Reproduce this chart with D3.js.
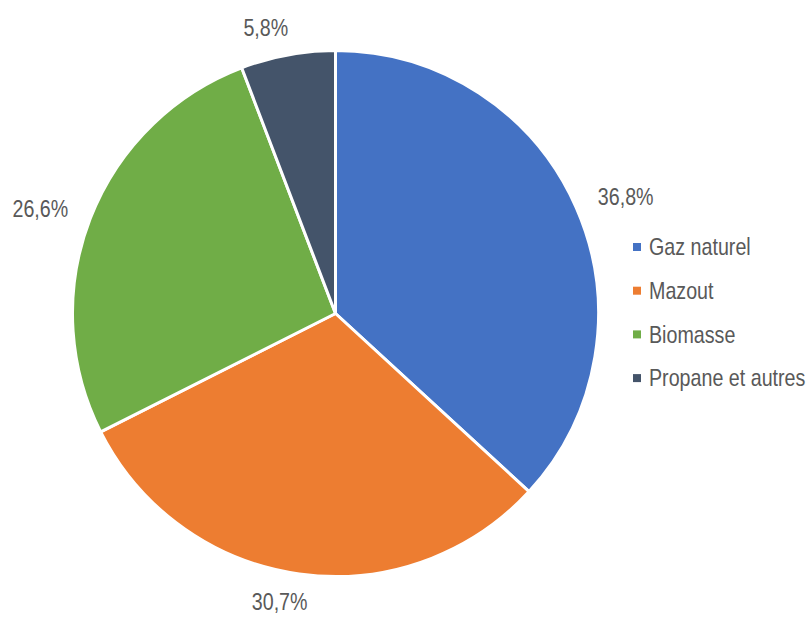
<!DOCTYPE html>
<html>
<head>
<meta charset="utf-8">
<script src="https://cdn.jsdelivr.net/npm/d3@7"></script>
<style>
  body { margin: 0; background: #fff; }
  text { font-family: "Liberation Sans", Arial, sans-serif; fill: #595959; }
</style>
</head>
<body>
<svg width="807" height="618"></svg>
<script>
// données
var categories = ["Gaz naturel", "Mazout", "Biomasse", "Propane et autres"];
var values = [36.8, 30.7, 26.6, 5.8];
var labels = ["36,8%", "30,7%", "26,6%", "5,8%"];
var colors = ["#4472C4", "#ED7D31", "#70AD47", "#44546A"];

svg = d3.select("svg");
cx = 335.5;
cy = 313.5;
radius = 263;
narrow = 0.82; // police étroite façon Arial Narrow

pie = d3.pie().sort(null).value(function(d) { return d; });
arc = d3.arc().innerRadius(0).outerRadius(radius);
arcs = pie(values);

g = svg.append("g")
		.attr("transform", "translate(" + [cx, cy] + ")");

g.selectAll("path.slice")
	.data(arcs)
	.enter().append("path")
		.attr("class", "slice")
		.attr("d", arc)
		.attr("fill", function(d, i) { return colors[i]; })
		.attr("stroke", "#fff")
		.attr("stroke-width", 3)
		.attr("stroke-linejoin", "round");

// étiquettes en dehors
g.selectAll("text.lab")
	.data(arcs)
	.enter().append("text")
		.attr("class", "lab")
		.attr("text-anchor", "middle")
		.attr("dominant-baseline", "central")
		.style("font-size", "24px")
		.attr("transform", function(d) {
			var a = (d.startAngle + d.endAngle) / 2;
			var s = Math.sin(a), c = Math.cos(a);
			var x = (radius + 22) * s + Math.sign(s) * 30 * Math.pow(Math.abs(s), 0.3);
			var y = -(radius + 20) * c - 8 * c;
			return "translate(" + [x, y] + ") scale(" + narrow + ",1)";
		})
		.text(function(d, i) { return labels[i]; });

// légende
legend = svg.append("g")
		.attr("transform", "translate(633,247)");

items = legend.selectAll("g.item")
	.data(categories)
	.enter().append("g")
		.attr("class", "item")
		.attr("transform", function(d, i) { return "translate(" + [0, i * 43.7] + ")"; });

items.append("rect")
		.attr("x", 0)
		.attr("y", -4)
		.attr("width", 8)
		.attr("height", 8)
		.attr("fill", function(d, i) { return colors[i]; });

items.append("text")
		.attr("transform", "translate(16,0) scale(" + narrow + ",1)")
		.attr("dominant-baseline", "central")
		.style("font-size", "24px")
		.text(function(d) { return d; });
</script>
</body>
</html>
